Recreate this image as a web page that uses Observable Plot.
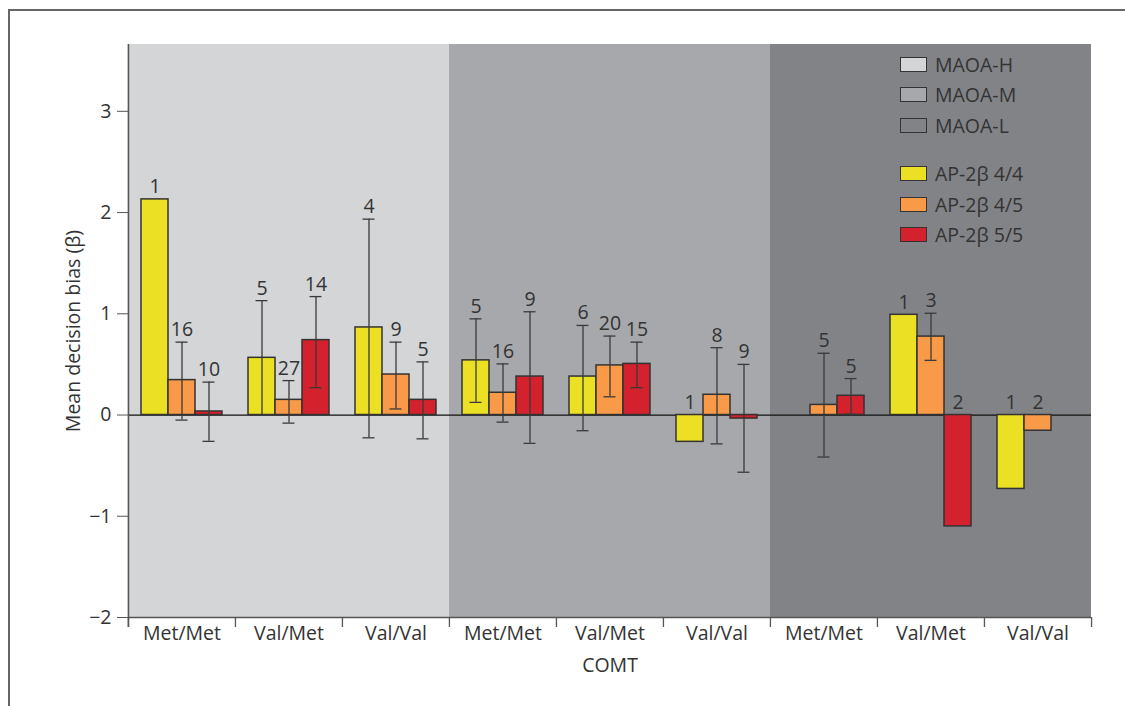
<!DOCTYPE html>
<html>
<head>
<meta charset="utf-8">
<script src="https://cdn.jsdelivr.net/npm/d3@7"></script>
<script src="https://cdn.jsdelivr.net/npm/@observablehq/plot@0.6"></script>
<style>
  body { margin: 0; background: #fff; font-family: "Open Sans", sans-serif; color: #333; }
  #wrap { position: relative; width: 1125px; height: 706px; overflow: hidden; }
  #wrap svg { position: absolute; left: 0; top: 0; }
  #frame { position: absolute; left: 8px; top: 9px; right: -20px; bottom: -20px;
           border-top: 2px solid #666; border-left: 2px solid #666; pointer-events: none; }
  #legend { position: absolute; left: 900px; top: 49px; font-size: 19.5px; color: #333; }
  .row { display: flex; align-items: center; height: 30.5px; }
  .row.gap { margin-top: 18px; }
  .sw { width: 25px; height: 13px; border: 1.5px solid #333; margin-right: 8px; }
</style>
</head>
<body>
<div id="wrap"><div id="frame"></div></div>
<script>
// MAOA panels and their shading
const panels = ["MAOA-H", "MAOA-M", "MAOA-L"];
const panelFill = ["#d4d5d7", "#a7a8ab", "#828387"];
// COMT genotypes within each panel
const comt = ["Met/Met", "Val/Met", "Val/Val"];
// AP-2β genotypes (bars within each COMT group)
const alleles = ["AP-2β 4/4", "AP-2β 4/5", "AP-2β 5/5"];
const alleleFill = ["#ece024", "#f99a49", "#d3222d"];

// Mean decision bias per group (H Met/Met, H Val/Met, H Val/Val, M ..., L ...)
const mean44 = [2.13, 0.565, 0.865, 0.54, 0.38, -0.265, null, 0.99, -0.73];
const mean45 = [0.345, 0.15, 0.40, 0.22, 0.49, 0.20, 0.10, 0.775, -0.155];
const mean55 = [0.035, 0.74, 0.15, 0.38, 0.505, -0.035, 0.19, -1.10, null];
// Error bar upper / lower ends
const hi44 = [null, 1.13, 1.935, 0.95, 0.885, null, null, null, null];
const lo44 = [null, 0.0, -0.225, 0.125, -0.155, null, null, null, null];
const hi45 = [0.72, 0.34, 0.72, 0.505, 0.78, 0.665, 0.61, 1.005, null];
const lo45 = [-0.05, -0.08, 0.06, -0.07, 0.18, -0.285, -0.415, 0.54, null];
const hi55 = [0.325, 1.17, 0.525, 1.02, 0.72, 0.50, 0.36, null, null];
const lo55 = [-0.26, 0.27, -0.235, -0.28, 0.27, -0.565, 0.01, null, null];
// Group sizes
const n44 = [1, 5, 4, 5, 6, 1, null, 1, 1];
const n45 = [16, 27, 9, 16, 20, 8, 5, 3, 2];
const n55 = [10, 14, 5, 9, 15, 9, 5, 2, null];

const yTicks = [-2, -1, 0, 1, 2, 3];

// Build group keys and tidy rows
const groups = [];
panels.forEach((p, pi) => comt.forEach(c => groups.push({key: `${p}|${c}`, panel: p, pi})));
const series = [
  [mean44, lo44, hi44, n44],
  [mean45, lo45, hi45, n45],
  [mean55, lo55, hi55, n55]
];
const rows = [];
series.forEach(([m, lo, hi, n], ai) => {
  groups.forEach((g, gi) => {
    if (m[gi] == null) return;
    rows.push({group: g.key, allele: alleles[ai], mean: m[gi], lo: lo[gi], hi: hi[gi], n: n[gi]});
  });
});
const errRows = rows.filter(d => d.hi != null);

const W = 1125, H = 706, mL = 126, mR = 33, mT = 44, mB = 89;
const pOuter = 0.48;
const facetW = (W - mL - mR) / groups.length;
const step = facetW / (alleles.length + 2 * pOuter);
const toEdge = pOuter * step + step / 2; // band centre to facet edge
const axisColor = "#555";
const errColor = "#3a3a3a";
const fs = 19.5;

const chart = Plot.plot({
  width: W, height: H,
  marginLeft: mL, marginRight: mR, marginTop: mT, marginBottom: mB,
  style: {fontFamily: "Open Sans, sans-serif", fontSize: `${fs}px`, color: "#333", background: "transparent"},
  fx: {domain: groups.map(g => g.key), padding: 0},
  x: {domain: alleles, paddingInner: 0, paddingOuter: pOuter, axis: null},
  y: {domain: [-2, 3.66]},
  color: {domain: alleles, range: alleleFill},
  marks: [
    // panel shading
    ...panels.map((p, i) => Plot.rect(groups.filter(g => g.panel === p), {fx: "key", fill: panelFill[i]})),
    Plot.ruleY([0], {stroke: "#111", strokeWidth: 1.3}),
    Plot.ruleY([-2], {stroke: axisColor, strokeWidth: 1.6}),
    // left axis line
    Plot.ruleX(groups.slice(0, 1), {fx: "key", x: () => alleles[0], dx: -toEdge, insetBottom: -10, stroke: axisColor, strokeWidth: 1.6}),
    // group boundary ticks
    Plot.ruleX(groups, {fx: "key", x: () => alleles[0], dx: -toEdge, y1: -2, y2: -2, insetBottom: -10, stroke: axisColor, strokeWidth: 1.3}),
    Plot.ruleX(groups.slice(-1), {fx: "key", x: () => alleles[2], dx: toEdge, y1: -2, y2: -2, insetBottom: -10, stroke: axisColor, strokeWidth: 1.3}),
    Plot.barY(rows, {fx: "group", x: "allele", y: "mean", fill: "allele", stroke: "#333", strokeWidth: 1.5}),
    Plot.ruleX(errRows, {fx: "group", x: "allele", y1: "lo", y2: "hi", stroke: errColor, strokeWidth: 1.3}),
    Plot.tickY(errRows, {fx: "group", x: "allele", y: "hi", insetLeft: 7.5, insetRight: 7.5, stroke: errColor, strokeWidth: 1.3}),
    Plot.tickY(errRows, {fx: "group", x: "allele", y: "lo", insetLeft: 7.5, insetRight: 7.5, stroke: errColor, strokeWidth: 1.3}),
    Plot.text(rows, {fx: "group", x: "allele", y: d => Math.max(d.mean, d.hi ?? d.mean, 0), text: "n",
      lineAnchor: "bottom", dy: -6, fill: "#333", fontSize: fs}),
    Plot.axisY({ticks: yTicks, tickSize: 11, tickPadding: 6, stroke: axisColor, fontSize: fs,
      tickFormat: d => (d < 0 ? "\u2212" : "") + Math.abs(d),
      label: "Mean decision bias (β)", labelAnchor: "center", labelOffset: 62, labelArrow: "none"}),
    Plot.axisFx({anchor: "bottom", tickSize: 0, tickPadding: 9, fontSize: fs, tickFormat: k => k.split("|")[1],
      label: "COMT", labelAnchor: "center", labelOffset: 54, labelArrow: "none"})
  ]
});

const wrap = document.getElementById("wrap");
wrap.insertBefore(chart, wrap.firstChild);

// Legend
const legend = document.createElement("div");
legend.id = "legend";
const items = [
  ...panels.map((p, i) => ({label: p, fill: panelFill[i]})),
  ...alleles.map((a, i) => ({label: a, fill: alleleFill[i], gap: i === 0}))
];
for (const it of items) {
  const row = document.createElement("div");
  row.className = "row" + (it.gap ? " gap" : "");
  const sw = document.createElement("div");
  sw.className = "sw";
  sw.style.background = it.fill;
  const t = document.createElement("span");
  t.textContent = it.label;
  row.append(sw, t);
  legend.append(row);
}
wrap.append(legend);
</script>
</body>
</html>
